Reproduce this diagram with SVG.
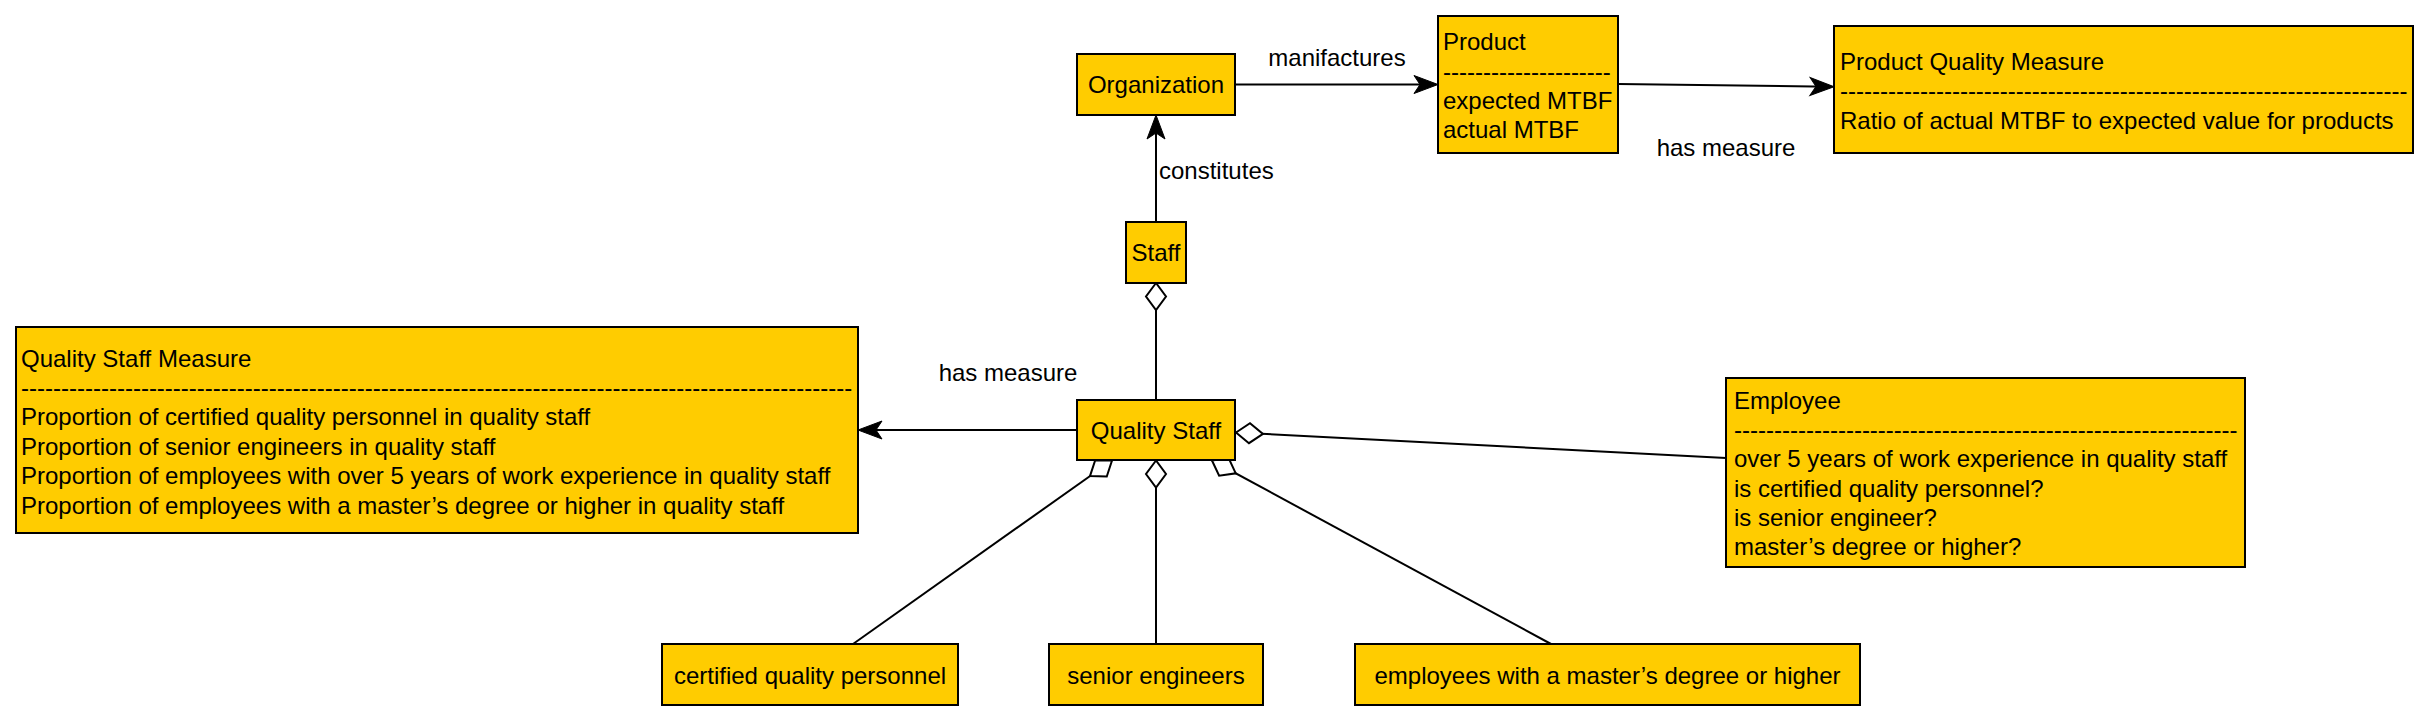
<svg xmlns="http://www.w3.org/2000/svg" width="2430" height="720" viewBox="0 0 2430 720">
  <style>
    .box { fill: #FFCC00; stroke: #000000; stroke-width: 2; }
    .t { font-family: "Liberation Sans", Arial, Helvetica, sans-serif; font-size: 24px; fill: #000000; }
    .c { text-anchor: middle; }
    .edge { fill: none; stroke: #000000; stroke-width: 2; }
  </style>
  <defs>
    <marker id="arrow" markerUnits="userSpaceOnUse" markerWidth="30" markerHeight="24" refX="-3" refY="0" orient="auto" overflow="visible">
      <path d="M0,0 L-24,-9 L-18,0 L-24,9 Z" fill="#000000" stroke="#000000" stroke-width="1"/>
    </marker>
    <marker id="diamond" markerUnits="userSpaceOnUse" markerWidth="32" markerHeight="24" refX="0" refY="0" orient="auto" overflow="visible">
      <path d="M0,0 L-13.5,-10 L-27,0 L-13.5,10 Z" fill="#FFFFFF" stroke="#000000" stroke-width="2" stroke-linejoin="miter"/>
    </marker>
  </defs>

  <g id="connectors">
    <path class="edge" d="M1235,84.5 L1435,84.5" marker-end="url(#arrow)"/>
    <path class="edge" d="M1156,222 L1156,118" marker-end="url(#arrow)"/>
    <path class="edge" d="M1618,84 L1831,86.7" marker-end="url(#arrow)"/>
    <path class="edge" d="M1077,430 L861,430" marker-end="url(#arrow)"/>
    <path class="edge" d="M1156,400 L1156,283" marker-end="url(#diamond)"/>
    <path class="edge" d="M1726,458 L1236,432.5" marker-end="url(#diamond)"/>
    <path class="edge" d="M853,644 L1112,460.5" marker-end="url(#diamond)"/>
    <path class="edge" d="M1156,644 L1156,460.5" marker-end="url(#diamond)"/>
    <path class="edge" d="M1551,644 L1212,460.5" marker-end="url(#diamond)"/>
    <text class="t c" x="1337" y="65.5">manifactures</text>
    <text class="t" x="1159" y="178.6">constitutes</text>
    <text class="t c" x="1726" y="155.5">has measure</text>
    <text class="t c" x="1008" y="380.6">has measure</text>
  </g>

  <g id="organization">
    <rect class="box" x="1077" y="54" width="158" height="61"/>
    <text class="t c" x="1156" y="93">Organization</text>
  </g>

  <g id="product">
    <rect class="box" x="1438" y="16" width="180" height="137"/>
    <text class="t" x="1443" y="50.3">Product</text>
    <text class="t" x="1443" y="79.6">---------------------</text>
    <text class="t" x="1443" y="108.9">expected MTBF</text>
    <text class="t" x="1443" y="138.2">actual MTBF</text>
  </g>

  <g id="product-quality-measure">
    <rect class="box" x="1834" y="26" width="579" height="127"/>
    <text class="t" x="1840" y="70">Product Quality Measure</text>
    <text class="t" x="1840" y="99">-----------------------------------------------------------------------</text>
    <text class="t" x="1840" y="128.5">Ratio of actual MTBF to expected value for products</text>
  </g>

  <g id="staff">
    <rect class="box" x="1126" y="222" width="60" height="61"/>
    <text class="t c" x="1156" y="261">Staff</text>
  </g>

  <g id="quality-staff">
    <rect class="box" x="1077" y="400" width="158" height="60"/>
    <text class="t c" x="1156" y="438.6">Quality Staff</text>
  </g>

  <g id="quality-staff-measure">
    <rect class="box" x="16" y="327" width="842" height="206"/>
    <text class="t" x="21" y="366.5">Quality Staff Measure</text>
    <text class="t" x="21" y="395.9">--------------------------------------------------------------------------------------------------------</text>
    <text class="t" x="21" y="425.3">Proportion of certified quality personnel in quality staff</text>
    <text class="t" x="21" y="454.7">Proportion of senior engineers in quality staff</text>
    <text class="t" x="21" y="484.1">Proportion of employees with over 5 years of work experience in quality staff</text>
    <text class="t" x="21" y="513.5">Proportion of employees with a master’s degree or higher in quality staff</text>
  </g>

  <g id="employee">
    <rect class="box" x="1726" y="378" width="519" height="189"/>
    <text class="t" x="1734" y="409">Employee</text>
    <text class="t" x="1734" y="438.2">---------------------------------------------------------------</text>
    <text class="t" x="1734" y="467.4">over 5 years of work experience in quality staff</text>
    <text class="t" x="1734" y="496.6">is certified quality personnel?</text>
    <text class="t" x="1734" y="525.8">is senior engineer?</text>
    <text class="t" x="1734" y="555">master’s degree or higher?</text>
  </g>

  <g id="certified-quality-personnel">
    <rect class="box" x="662" y="644" width="296" height="61"/>
    <text class="t c" x="810" y="683.5">certified quality personnel</text>
  </g>

  <g id="senior-engineers">
    <rect class="box" x="1049" y="644" width="214" height="61"/>
    <text class="t c" x="1156" y="683.5">senior engineers</text>
  </g>

  <g id="masters-degree-employees">
    <rect class="box" x="1355" y="644" width="505" height="61"/>
    <text class="t c" x="1607.5" y="683.5">employees with a master’s degree or higher</text>
  </g>
</svg>
